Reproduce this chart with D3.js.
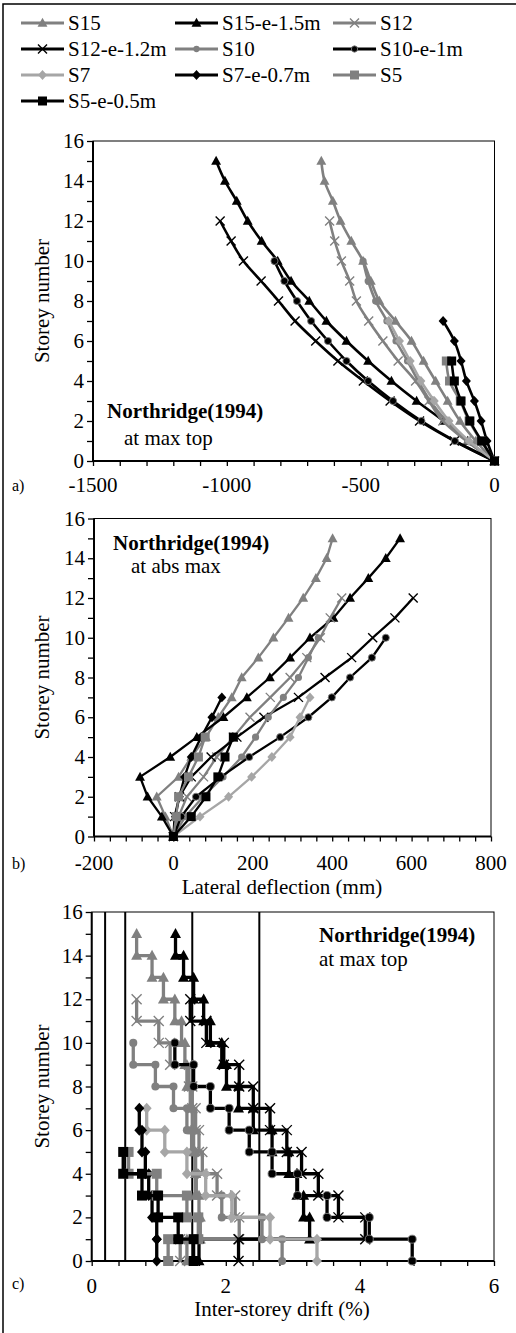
<!DOCTYPE html>
<html><head><meta charset="utf-8">
<script src="https://cdn.jsdelivr.net/npm/d3@7"></script>
<style>
body{margin:0;background:#fff}
svg{display:block}
</style>
</head><body>
<svg id="chart" width="516" height="1333" style="font-family:'Liberation Serif','DejaVu Serif',serif"></svg>
<script>
// ---------------- DATA ----------------
const seriesNames = ["S15","S15-e-1.5m","S12","S12-e-1.2m","S10","S10-e-1m","S7","S7-e-0.7m","S5","S5-e-0.5m"];

// Panel a: lateral deflection at max top (mm), index = storey 0..N
const aS15  = [0,-70,-129,-175,-220,-265,-310,-370,-430,-462,-491,-535,-575,-604,-635,-647];
const aS15e = [0,-100,-190,-291,-385,-472,-553,-628,-692,-760,-810,-870,-922,-963,-1007,-1040];
const aS12  = [0,-105,-193,-245,-295,-360,-417,-470,-516,-541,-572,-597,-616];
const aS12e = [0,-150,-280,-390,-490,-585,-668,-745,-807,-872,-938,-984,-1025];
const aS10  = [0,-100,-180,-240,-285,-325,-368,-402,-444,-472,-491];
const aS10e = [0,-148,-273,-379,-472,-553,-622,-685,-738,-785,-822];
const aS7   = [0,-95,-170,-225,-275,-315,-355,-395];
const aS7e  = [0,-28,-50,-75,-105,-125,-150,-192];
const aS5   = [0,-50,-95,-128,-168,-180];
const aS5e  = [0,-48,-92,-125,-150,-160];

// Panel b: lateral deflection at abs max (mm)
const bS15  = [0,-20,-42,13,45,82,113,147,172,214,252,290,327,359,386,401];
const bS15e = [0,-29,-65,-84,-8,59,126,185,243,294,344,403,445,491,535,571];
const bS12  = [0,13,34,76,109,151,193,244,294,336,370,395,424];
const bS12e = [0,3,15,45,95,160,228,315,382,449,502,558,604];
const bS10  = [0,30,75,125,172,207,239,277,315,340,365];
const bS10e = [0,20,57,120,191,269,340,399,445,500,535];
const bS7   = [0,67,139,197,248,294,319,344];
const bS7e  = [0,5,15,28,45,70,97,122];
const bS5   = [0,7,13,38,63,80];
const bS5e  = [0,45,82,112,130,151];

// Panel c: inter-storey drift (%), index = storey 1..N
const cS15  = [1.42,1.62,1.6,1.55,1.55,1.52,1.5,1.47,1.42,1.39,1.34,1.24,1.07,0.9,0.67];
const cS15e = [1.6,3.25,3.16,3.06,2.94,2.69,2.41,2.19,2.01,1.94,1.77,1.67,1.52,1.37,1.25];
const cS12  = [1.32,2.2,2.14,1.87,1.65,1.6,1.55,1.5,1.45,1.17,1.0,0.67];
const cS12e = [2.19,4.08,3.68,3.38,3.13,2.91,2.66,2.41,2.2,1.97,1.71,1.47];
const cS10  = [2.84,2.54,1.94,1.56,1.54,1.49,1.42,1.22,0.95,0.62];
const cS10e = [4.78,4.14,3.51,3.07,2.69,2.35,2.05,1.77,1.52,1.24];
const cS7   = [3.36,2.66,2.09,1.7,1.42,1.09,0.82];
const cS7e  = [0.97,0.97,0.9,0.85,0.8,0.75,0.71];
const cS5   = [1.14,1.59,1.42,0.97,0.55];
const cS5e  = [1.52,1.29,0.99,0.75,0.47];
const driftLimits = [0.2,0.5,1.5,2.5];

// Tick labels
const aXTicks = [-1500,-1000,-500,0];
const bXTicks = [-200,0,200,400,600,800];
const cXTicks = [0,2,4,6];
const yTicks  = [0,2,4,6,8,10,12,14,16];

// ---------------- STYLES ----------------
const FONT = "'Liberation Serif','DejaVu Serif',serif";
const GRAY = "#808080", LIGHT = "#a6a6a6", BLACK = "#000";
const seriesStyle = [
  {color:GRAY,  marker:"triangle"},
  {color:BLACK, marker:"triangle"},
  {color:GRAY,  marker:"x"},
  {color:BLACK, marker:"x"},
  {color:GRAY,  marker:"circle"},
  {color:BLACK, marker:"circle"},
  {color:LIGHT, marker:"diamond"},
  {color:BLACK, marker:"diamond"},
  {color:GRAY,  marker:"square"},
  {color:BLACK, marker:"square"}
];

const panelA = [aS15,aS15e,aS12,aS12e,aS10,aS10e,aS7,aS7e,aS5,aS5e];
const panelB = [bS15,bS15e,bS12,bS12e,bS10,bS10e,bS7,bS7e,bS5,bS5e];
const panelC = [cS15,cS15e,cS12,cS12e,cS10,cS10e,cS7,cS7e,cS5,cS5e];

const svg = d3.select("#chart");

function txt(g, x, y, s, size, opts={}){
  const t = g.append("text").attr("x",x).attr("y",y)
    .attr("font-family",FONT).attr("font-size",size).attr("fill","#000")
    .style("font-family",FONT).text(s);
  if(opts.anchor) t.attr("text-anchor",opts.anchor);
  if(opts.bold) t.attr("font-weight","bold");
  if(opts.transform) t.attr("transform",opts.transform);
  return t;
}

// outer frame
svg.append("rect").attr("x",3).attr("y",4).attr("width",530).attr("height",1345)
  .attr("fill","none").attr("stroke","#000").attr("stroke-width",1.5);

function markerPath(type, s){
  const h = s/2;
  switch(type){
    case "triangle": return `M0,${-s*0.58}L${s*0.55},${s*0.42}L${-s*0.55},${s*0.42}Z`;
    case "square": return `M${-h},${-h}H${h}V${h}H${-h}Z`;
    case "diamond": return `M0,${-h*1.1}L${h},0L0,${h*1.1}L${-h},0Z`;
    case "circle": return d3.symbol(d3.symbolCircle, Math.PI*h*h*0.8)();
    case "x": return `M${-h},${-h}L${h},${h}M${-h},${h}L${h},${-h}`;
  }
}
function drawMarker(g, type, color, x, y, s, idx){
  const p = g.append("path").attr("d", markerPath(type,s)).attr("transform",`translate(${x},${y})`);
  if(type==="x"){
    p.attr("fill","none").attr("stroke",color).attr("stroke-width",1.4);
  } else {
    p.attr("fill",color);
    if(idx===5) p.attr("stroke",GRAY).attr("stroke-width",0.9);
  }
}

function drawAxes(o){
  const {x,y,xTicks,xMinor,xTitle,titleY,tickBaseline,panelLetter,letterY} = o;
  const [x0,x1] = x.range(), [y0,y1] = y.range();
  const g = svg.append("g");
  g.append("rect").attr("x",x0).attr("y",y1).attr("width",x1-x0).attr("height",y0-y1)
    .attr("fill","none").attr("stroke","#000").attr("stroke-width",1);
  const ax = d3.axisBottom(x).tickValues(xMinor).tickSize(5).tickFormat("");
  g.append("g").attr("transform",`translate(0,${y0})`).call(ax)
    .call(s=>s.select(".domain").remove())
    .call(s=>s.selectAll("line").attr("stroke","#000").attr("stroke-width",1.3));
  xTicks.forEach(d=>txt(g,x(d),tickBaseline,String(d),21,{anchor:"middle"}));
  const ay = d3.axisLeft(y).tickValues(d3.range(0,17,1)).tickSize(6).tickFormat("");
  g.append("g").attr("transform",`translate(${x0},0)`).call(ay)
    .call(s=>s.select(".domain").remove())
    .call(s=>s.selectAll("line").attr("stroke","#000").attr("stroke-width",1.3));
  yTicks.forEach(d=>txt(g,x0-9,y(d)+7,String(d),21,{anchor:"end"}));
  g.append("line").attr("x1",x0).attr("x2",x0).attr("y1",y1).attr("y2",y0).attr("stroke","#000").attr("stroke-width",2);
  g.append("line").attr("x1",x0).attr("x2",x1).attr("y1",y0).attr("y2",y0).attr("stroke","#000").attr("stroke-width",2);
  txt(g,0,0,"Storey number",21,{anchor:"middle",transform:`translate(49,${(y0+y1)/2}) rotate(-90)`});
  if(xTitle) txt(g,282,titleY,xTitle,21,{anchor:"middle"});
  txt(g,12,letterY,panelLetter,16);
}

// ---------------- PANEL A ----------------
const xa = d3.scaleLinear().domain([-1500,0]).range([93,494.5]);
const ya = d3.scaleLinear().domain([0,16]).range([461,141]);
drawAxes({x:xa,y:ya,xTicks:aXTicks,xMinor:d3.range(-1500,1,100),tickBaseline:492,panelLetter:"a)",letterY:491});
const gA = svg.append("g");
panelA.forEach((vals,i)=>{
  const st = seriesStyle[i];
  const pts = vals.map((v,s)=>[xa(v),ya(s)]);
  gA.append("path").attr("d",d3.line().curve(d3.curveCatmullRom.alpha(0.5))(pts))
    .attr("fill","none").attr("stroke",st.color).attr("stroke-width",2.6);
  pts.forEach(p=>drawMarker(gA,st.marker,st.color,p[0],p[1],st.marker==="circle"?8:9,i));
});
txt(svg,107,418,"Northridge(1994)",21,{bold:true});
txt(svg,124,445,"at max top",21);

// ---------------- PANEL B ----------------
const xb = d3.scaleLinear().domain([-200,800]).range([94,491]);
const yb = d3.scaleLinear().domain([0,16]).range([836.5,518.5]);
drawAxes({x:xb,y:yb,xTicks:bXTicks,xMinor:d3.range(-200,801,40),tickBaseline:870,xTitle:"Lateral deflection (mm)",titleY:894,panelLetter:"b)",letterY:869});
const gB = svg.append("g");
panelB.forEach((vals,i)=>{
  const st = seriesStyle[i];
  const pts = vals.map((v,s)=>[xb(v),yb(s)]);
  gB.append("path").attr("d",d3.line()(pts))
    .attr("fill","none").attr("stroke",st.color).attr("stroke-width",2.3);
  pts.forEach(p=>drawMarker(gB,st.marker,st.color,p[0],p[1],st.marker==="circle"?8:9,i));
});
txt(svg,113,550,"Northridge(1994)",21,{bold:true});
txt(svg,131,573,"at abs max",21);

// ---------------- PANEL C ----------------
const xc = d3.scaleLinear().domain([0,6]).range([91.7,494]);
const yc = d3.scaleLinear().domain([0,16]).range([1261,912]);
drawAxes({x:xc,y:yc,xTicks:cXTicks,xMinor:d3.range(0,6.01,0.4),tickBaseline:1293,xTitle:"Inter-storey drift (%)",titleY:1316,panelLetter:"c)",letterY:1289});
const gC = svg.append("g");
driftLimits.forEach(v=>{
  gC.append("line").attr("x1",xc(v)).attr("x2",xc(v)).attr("y1",yc(16)).attr("y2",yc(0))
    .attr("stroke","#000").attr("stroke-width",2);
});
panelC.forEach((vals,i)=>{
  const st = seriesStyle[i];
  const pts = [];
  vals.forEach((d,k)=>{ pts.push([xc(d),yc(k)]); pts.push([xc(d),yc(k+1)]); });
  gC.append("path").attr("d",d3.line()(pts))
    .attr("fill","none").attr("stroke",st.color).attr("stroke-width",3.3);
  pts.forEach(p=>drawMarker(gC,st.marker,st.color,p[0],p[1],st.marker==="circle"?9:10,i));
});
txt(svg,319,942,"Northridge(1994)",21,{bold:true});
txt(svg,319,966,"at max top",21);

// ---------------- LEGEND ----------------
const legCols = [21,175,333];
const legRows = [23,49,75,101];
const gL = svg.append("g");
seriesNames.forEach((name,i)=>{
  const st = seriesStyle[i];
  const col = i%3, row = Math.floor(i/3);
  const x0 = legCols[col], y = legRows[row];
  gL.append("line").attr("x1",x0).attr("x2",x0+43).attr("y1",y).attr("y2",y)
    .attr("stroke",st.color).attr("stroke-width",2.8);
  drawMarker(gL,st.marker,st.color,x0+21.5,y,st.marker==="circle"?7:9,i);
  txt(gL,x0+47,y+7,name,21);
});
</script>
</body></html>
